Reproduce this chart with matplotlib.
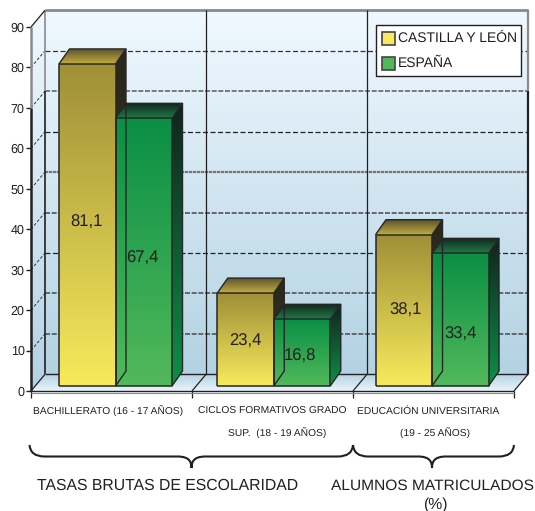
import matplotlib
matplotlib.use('Agg')
import numpy as np
import matplotlib.pyplot as plt
from matplotlib.colors import LinearSegmentedColormap
from matplotlib.patches import Polygon, Rectangle, PathPatch
from matplotlib.path import Path

plt.rcParams['font.family'] = ['Liberation Sans', 'DejaVu Sans']
plt.rcParams['text.hinting'] = 'none'

# data
castilla = [81.1, 23.4, 38.1]
espana = [67.4, 16.8, 33.4]
value_labels = [['81,1', '67,4'], ['23,4', '16,8'], ['38,1', '33,4']]
y_ticks = list(range(0, 100, 10))
series_names = ['CASTILLA Y LEÓN', 'ESPAÑA']
cat_line1 = ['BACHILLERATO (16 - 17 AÑOS)', 'CICLOS FORMATIVOS GRADO', 'EDUCACIÓN UNIVERSITARIA']
cat_line2 = ['', 'SUP.  (18 - 19 AÑOS)', '(19 - 25 AÑOS)']

# layout
INK = '#231f20'
DX, DY = 0.087, 4.13        # depth of the box
BDX, BDY = 0.065, 3.7       # depth of the bars
BASE = 1.24
SHRINK = 0.982              # the bars are drawn a bit short of the axis in the original
BAR_W = 0.351
thin = (0, (4, 2))
thick = (0, (3, 1))
grid_styles = {10: ('#555555', 1.2, thick), 20: ('#555555', 1.2, thick),
               30: ('#222222', 0.9, thin), 40: ('#555555', 1.2, thick),
               50: ('#777777', 1.6, (0, (1.5, 0.3))), 60: ('#222222', 0.9, thin),
               70: ('#666666', 1.2, thick), 80: ('#333333', 0.9, thin)}

fig = plt.figure(figsize=(5.35, 5.11), dpi=100)
ax = fig.add_axes([31 / 535, 1 - 391 / 511, 483 / 535, 364 / 511])
ax.set_xlim(0, 3)
ax.set_ylim(0, 90)
ax.patch.set_visible(False)
for s in ax.spines.values():
    s.set_visible(False)


def gradient(points, bottom, top, z):
    # vertical gradient clipped to a polygon
    pts = np.array(points)
    cmap = LinearSegmentedColormap.from_list('g', [bottom, top])
    extent = [pts[:, 0].min(), pts[:, 0].max(), pts[:, 1].min(), pts[:, 1].max()]
    im = ax.imshow(np.linspace(0, 1, 256).reshape(-1, 1), cmap=cmap, origin='lower',
                   extent=extent, aspect='auto', zorder=z, interpolation='bilinear')
    im.set_clip_path(Polygon(pts, transform=ax.transData))
    im.set_clip_box(fig.bbox)


def line(xs, ys, color=INK, lw=1.0, ls='-', z=2):
    ax.plot(xs, ys, color=color, lw=lw, ls=ls, zorder=z, clip_on=False, solid_capstyle='butt')


# walls and floor
gradient([(DX, DY), (3 + DX, DY), (3 + DX, 90 + DY), (DX, 90 + DY)], '#b3d2e3', '#f0f9ff', 1)
gradient([(0, 0), (DX, DY), (DX, 90 + DY), (0, 90)], '#b3d2e3', '#f0f9ff', 1)
gradient([(0, 0), (3, 0), (3 + DX, DY), (DX, DY)], '#eaf5fb', '#b3d2e3', 1)

# grid on back and left wall
for v in y_ticks[1:-1]:
    color, lw, ls = grid_styles[v]
    line([DX, 3 + DX], [v + DY, v + DY], color, lw, ls)
    line([0, DX], [v, v + DY], '#333333', 0.7, (0, (3, 2)))

# box edges
line([0, 0], [0, 70], INK, 1.8)
line([0, 0], [70, 90], '#8a8a8a', 1.8)
line([DX, DX], [DY, 70 + DY], INK, 1.2)
line([DX, DX], [70 + DY, 90 + DY], '#8a8a8a', 1.2)
line([3 + DX, 3 + DX], [DY, 70 + DY], INK, 1.6)
line([3 + DX, 3 + DX], [70 + DY, 90 + DY], '#8a8a8a', 1.6)
line([DX, 3 + DX], [90 + DY, 90 + DY], '#8a8a8a', 2.0)
line([0, DX], [90, 90 + DY], INK, 0.9)
line([DX, 3 + DX], [DY, DY], INK, 1.0)
line([0, 3], [0, 0], INK, 1.0, z=6)
line([0, 3], [-0.4, -0.4], '#8a8a8a', 0.8, z=6)
for i in range(1, 3):
    line([i + DX, i + DX], [DY, 90 + DY], INK, 0.9)
for i in range(4):
    line([i, i + DX], [0, DY], INK, 0.9)


def bar(x0, value, front, side, roof):
    x1 = x0 + BAR_W
    h = BASE + value * SHRINK
    gradient([(x1, BASE), (x1 + BDX, BASE + BDY), (x1 + BDX, h + BDY), (x1, h)], side[0], side[1], 3.6)
    gradient([(x0, h), (x1, h), (x1 + BDX, h + BDY), (x0 + BDX, h + BDY)], roof[0], roof[1], 3.6)
    gradient([(x0, BASE), (x1, BASE), (x1, h), (x0, h)], front[0], front[1], 4)
    line([x0, x1, x1, x0, x0], [BASE, BASE, h, h, BASE], '#262626', 1.1, z=5)
    line([x0, x0 + BDX, x1 + BDX, x1], [h, h + BDY, h + BDY, h], '#262626', 1.0, z=5)
    line([x1 + BDX, x1 + BDX, x1], [h + BDY, BASE + BDY, BASE], '#262626', 1.0, z=5)


for i in range(3):
    c = 0.525 + i * 0.983
    bar(c - BAR_W, castilla[i], ('#f8ea5c', '#9f8f38'), ('#3f3a24', '#2a271b'), ('#c2ae3e', '#5f5530'))
    bar(c, espana[i], ('#52b95b', '#0a8f45'), ('#0c9049', '#10241b'), ('#1f7a48', '#14261d'))

# axis ticks
ax.set_yticks(y_ticks)
ax.set_xticks(range(4))
ax.set_xticklabels([])
ax.tick_params(axis='y', length=3.5, width=1, color=INK, labelsize=9, labelcolor=INK, pad=1)
ax.tick_params(axis='x', length=5, width=0.9, color=INK)

# overlay in pixels for annotation
ov = fig.add_axes([0, 0, 1, 1])
ov.set_xlim(0, 535)
ov.set_ylim(511, 0)
ov.axis('off')
ov.set_zorder(3)

# value labels
label_pos = [[(86, 222), (142, 258)], [(245, 341), (300, 356)], [(406, 310), (461, 334)]]
for row, pos in zip(value_labels, label_pos):
    for txt, (x, y) in zip(row, pos):
        ov.text(x, y, txt, ha='center', va='center', fontsize=12, color=INK)

# category labels
for x, txt in zip([107.7, 272, 428], cat_line1):
    ov.text(x, 411, txt, ha='center', va='center', fontsize=7.4, color=INK)
for x, txt in zip([107, 277.5, 435], cat_line2):
    ov.text(x, 433, txt, ha='center', va='center', fontsize=7.4, color=INK)


def brace(x0, tip, x1):
    y0, ym, yt = 445, 456.5, 468
    verts = [(x0, y0), (x0 + 1, ym), (x0 + 15, ym), (tip - 14, ym), (tip - 2, ym), (tip, yt - 6), (tip, yt),
             (tip, yt - 6), (tip + 2, ym), (tip + 14, ym), (x1 - 15, ym), (x1 - 1, ym), (x1, y0)]
    codes = [Path.MOVETO, Path.CURVE3, Path.CURVE3, Path.LINETO,
             Path.CURVE4, Path.CURVE4, Path.CURVE4,
             Path.CURVE4, Path.CURVE4, Path.CURVE4, Path.LINETO, Path.CURVE3, Path.CURVE3]
    ov.add_patch(PathPatch(Path(verts, codes), fc='none', ec=INK, lw=1.5))


brace(29.5, 191.5, 353)
brace(353, 432, 514)
ov.text(167.5, 485.5, 'TASAS BRUTAS DE ESCOLARIDAD', ha='center', va='center', fontsize=11.3, color=INK)
ov.text(432.5, 485.5, 'ALUMNOS MATRICULADOS', ha='center', va='center', fontsize=11.15, color=INK)
ov.text(435, 505, '(%)', ha='center', va='center', fontsize=11.3, color=INK)

# legend
ov.add_patch(Rectangle((375.5, 25.5), 145, 51, fc='white', ec=INK, lw=1.0, zorder=2))
for y, color, name in zip([38.5, 63.5], ['#f8ea5c', '#52b95b'], series_names):
    ov.add_patch(Rectangle((382, y - 6.5), 12.5, 13, fc=color, ec='#444444', lw=1.2, zorder=3))
    ov.text(398, y, name, ha='left', va='center', fontsize=10, color=INK, zorder=3)

fig.savefig('out.png', dpi=100)
